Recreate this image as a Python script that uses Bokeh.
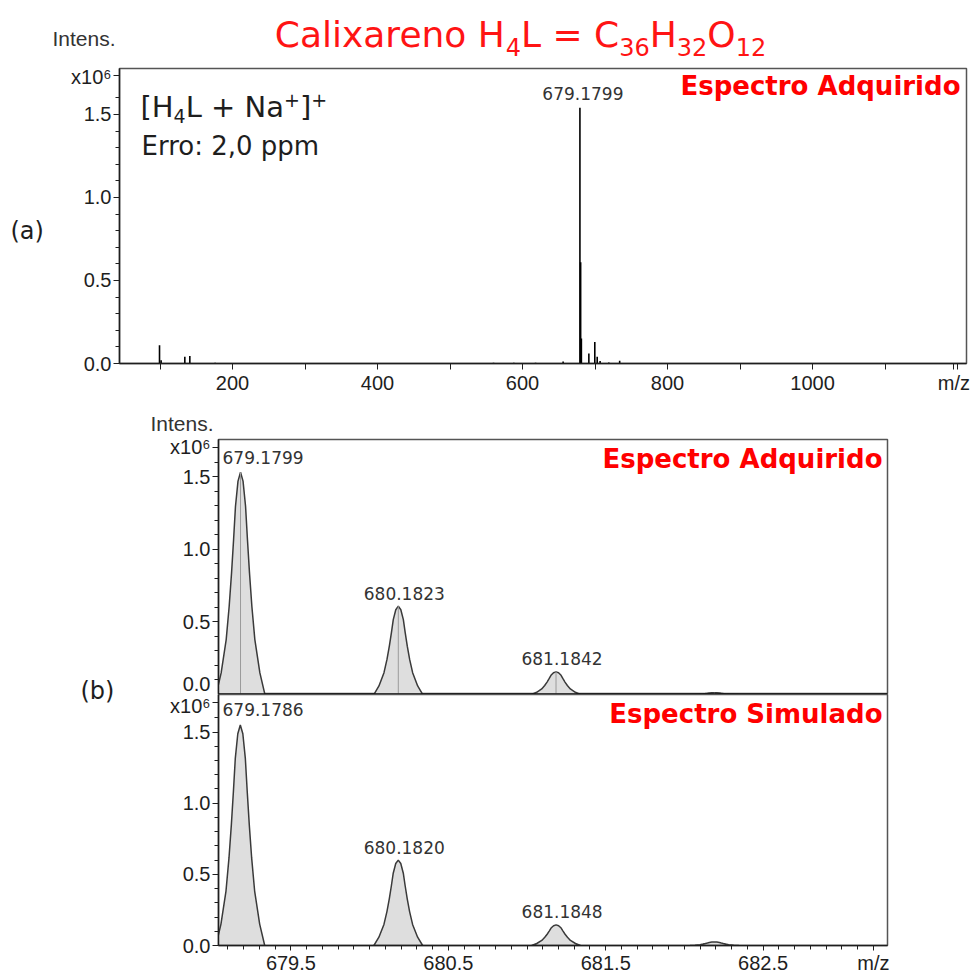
from bokeh.plotting import figure
from bokeh.layouts import column, row
from bokeh.models import (Label, FixedTicker, PrintfTickFormatter, Range1d,
                          ColumnDataSource, Span)
from bokeh.core.properties import value
from bokeh.embed import file_html
from bokeh.resources import INLINE

# ---------------- data ----------------
# (a) full-range spectrum (sticks), intensity in units of 10^6
full_mz = [99.3, 101.5, 134.2, 141.1, 176.0, 560.0, 588.0, 618.0, 656.0,
           679.18, 680.18, 681.18, 691.5, 699.7, 703.0, 707.0, 719.0, 734.0]
full_int = [0.11, 0.02, 0.04, 0.045, 0.004, 0.004, 0.004, 0.005, 0.012,
            1.54, 0.61, 0.15, 0.06, 0.13, 0.04, 0.015, 0.006, 0.016]
main_label_a = "679.1799"
xticks_a = [100, 200, 300, 400, 500, 600, 700, 800, 900, 1000, 1100, 1195]
xticklabels_a = ["", "200", "", "400", "", "600", "", "800", "", "1000", "", "m/z"]
yticks = [0.0, 0.5, 1.0, 1.5]
yticklabels = ["0.0", "0.5", "1.0", "1.5"]
yminor = [0.1, 0.2, 0.3, 0.4, 0.6, 0.7, 0.8, 0.9, 1.1, 1.2, 1.3, 1.4, 1.6]
scale_label = "x10\u2076"

# (b) isotope pattern, acquired and simulated
acq_mz = [679.1799, 680.1823, 681.1842, 682.19]
acq_int = [1.53, 0.608, 0.156, 0.012]
acq_labels = ["679.1799", "680.1823", "681.1842", ""]
sim_mz = [679.1786, 680.1820, 681.1848, 682.19]
sim_int = [1.55, 0.60, 0.145, 0.025]
sim_labels = ["679.1786", "680.1820", "681.1848", ""]
xticks_b = [679.5, 680.5, 681.5, 682.5, 683.2]
xticklabels_b = ["679.5", "680.5", "681.5", "682.5", "m/z"]
# peak profile shape: m/z offset and fraction of apex
profile_dx = [-0.155, -0.123, -0.091, -0.072, -0.057, -0.044, -0.032, -0.016, 0.0,
              0.016, 0.032, 0.044, 0.057, 0.072, 0.091, 0.123, 0.155]
profile_rel = [0.0, 0.097, 0.247, 0.397, 0.547, 0.697, 0.847, 0.96, 1.0,
               0.96, 0.847, 0.697, 0.547, 0.397, 0.247, 0.097, 0.0]

# text runs (text, size px, baseline shift px downwards)
title_runs = [("Calixareno H", 36, 0), ("4", 24, 8), ("L = C", 36, 0), ("36", 24, 8),
              ("H", 36, 0), ("32", 24, 8), ("O", 36, 0), ("12", 24, 8)]
ion_runs = [("[H", 29, 0), ("4", 19, 5), ("L + Na", 29, 0), ("+", 19, -11),
            ("]", 29, 0), ("+", 19, -11)]
error_text = "Erro: 2,0 ppm"

TICK_FONT = "Liberation Sans"
TXT_FONT = "DejaVu Sans"
DARK = "#1e1e1e"
RED = "#ff0000"
CAP_MID = 0.365  # half cap height of DejaVu Sans, in em

# DejaVu Sans advance widths (em) for laying out runs
ADV = {" ": 0.318, "+": 0.838, "=": 0.838, "[": 0.390, "]": 0.390,
       "C": 0.698, "H": 0.752, "L": 0.557, "N": 0.748, "O": 0.787,
       "a": 0.613, "e": 0.615, "i": 0.278, "l": 0.278, "n": 0.634,
       "o": 0.612, "r": 0.411, "x": 0.592}


def adv(t, size):
    return sum(ADV.get(c, 0.636) for c in t) * size


def no_align(p):
    try:
        p.frame_align = False
    except Exception:
        pass


def mapper(left, right, top, bottom, x0, x1, y0, y1):
    def f(px, py):
        return (x0 + (px - left) * (x1 - x0) / (right - left),
                y0 + (bottom - py) * (y1 - y0) / (bottom - top))
    return f


def txt(p, m, px, py, text, size, color=DARK, font=TXT_FONT, align="left",
        style="normal"):
    x, y = m(px, py)
    p.add_layout(Label(x=x, y=y, text=text, text_font=font, text_font_size=size,
                       text_color=color, text_align=align, text_baseline="middle",
                       text_font_style=style))


def style_axis(ax, size):
    ax.axis_line_color = DARK
    ax.axis_line_width = 1.5
    ax.major_tick_line_color = DARK
    ax.minor_tick_line_color = DARK
    ax.major_tick_out = 6
    ax.major_tick_in = 0
    ax.minor_tick_out = 4
    ax.minor_tick_in = 0
    ax.major_label_text_font = TICK_FONT
    ax.major_label_text_font_size = size
    ax.major_label_text_color = DARK
    ax.major_label_standoff = 2


def base_fig(**kw):
    p = figure(output_backend="svg", toolbar_location=None, **kw)
    p.grid.visible = False
    p.outline_line_color = "#555555"
    p.outline_line_width = 1.5
    p.background_fill_color = "white"
    p.border_fill_color = "white"
    no_align(p)
    return p


def text_fig(width, height, x0, x1, y_top, y_bottom):
    """A frame-only strip whose data coordinates are page pixels (for loose texts)."""
    p = figure(output_backend="svg", toolbar_location=None, width=width, height=height,
               x_range=Range1d(x0, x1), y_range=Range1d(y_bottom, y_top),
               x_axis_location=None, y_axis_location=None,
               min_border_left=0, min_border_right=0, min_border_top=0, min_border_bottom=0)
    p.grid.visible = False
    p.outline_line_color = None
    p.background_fill_color = "white"
    p.border_fill_color = "white"
    no_align(p)
    return p


def put_text(p, x, y, t, size, color=DARK, font=TXT_FONT, align="left"):
    p.text(x=[x], y=[y], text=[t], text_font=value(font), text_font_size=value(size),
           text_color=color, text_align=align, text_baseline="middle")


def y_ticker(ax, top_tick):
    ax.ticker = FixedTicker(ticks=yticks + [top_tick], minor_ticks=yminor)
    ov = {t: l for t, l in zip(yticks, yticklabels)}
    ov[top_tick] = scale_label
    ax.major_label_overrides = ov
    ax.formatter = PrintfTickFormatter(format="%.1f")


# ---------------- header (title row) ----------------
hdr = text_fig(971, 65, 0, 971, 0, 65)
total = sum(adv(t, s) for t, s, d in title_runs)
cx = 520 - total / 2
for t, s, d in title_runs:
    put_text(hdr, cx, 47 + d - CAP_MID * s, t, "%dpx" % s, color="#ff1414")
    cx += adv(t, s)
put_text(hdr, 52, 38, "Intens.", "21px", color="#333333", font=TICK_FONT)

# ---------------- panel (a) ----------------
sa = text_fig(63, 335, 0, 63, 65, 400)
put_text(sa, 10, 230, "(a)", "24px")

XA0, XA1, YA1 = 44.1, 1212.4, 1.777
pa = base_fig(width=908, height=335, x_range=Range1d(XA0, XA1), y_range=Range1d(0, YA1),
              min_border_left=56, min_border_right=5, min_border_top=3, min_border_bottom=37)
ma = mapper(119, 966, 68, 363, XA0, XA1, 0, YA1)

pa.xaxis.ticker = FixedTicker(ticks=xticks_a, minor_ticks=[1200])
pa.xaxis.major_label_overrides = {t: l for t, l in zip(xticks_a, xticklabels_a)}
y_ticker(pa.yaxis[0], 1.735)
for ax in pa.xaxis + pa.yaxis:
    style_axis(ax, "20px")
pa.xaxis[0].minor_tick_out = 6

src_a = ColumnDataSource(dict(mz=full_mz, h=full_int))
pa.segment(x0="mz", y0=0, x1="mz", y1="h", source=src_a, line_color="black", line_width=1.6)

pa.add_layout(Label(x=full_mz[9], y=full_int[9], y_offset=14, text=main_label_a,
                    text_font=TXT_FONT, text_font_size="17px", text_color="#333333",
                    text_align="center", text_baseline="middle", x_offset=3))
cx = 140
for t, s, d in ion_runs:
    txt(pa, ma, cx, 117 + d - CAP_MID * s, t, "%dpx" % s)
    cx += adv(t, s)
txt(pa, ma, 141, 155 - CAP_MID * 26, error_text, "26px")
txt(pa, ma, 960, 85, "Espectro Adquirido", "26px", color=RED, align="right", style="bold")

# ---------------- panel (b) ----------------
hb = text_fig(971, 34, 0, 971, 400, 434)
put_text(hb, 150, 423, "Intens.", "21px", color="#333333", font=TICK_FONT)

sb = text_fig(150, 542, 0, 150, 434, 976)
put_text(sb, 80, 690, "(b)", "24px")

XB0, XB1 = 679.04, 683.29
YB1, YC1 = 1.755, 1.764
pb = base_fig(width=821, height=260, x_range=Range1d(XB0, XB1), y_range=Range1d(0, YB1),
              min_border_left=68, min_border_right=84, min_border_top=5, min_border_bottom=0,
              x_axis_location=None)
mb = mapper(218, 887, 439, 694, XB0, XB1, 0, YB1)
y_ticker(pb.yaxis[0], 1.70)
style_axis(pb.yaxis[0], "20px")

pc = base_fig(width=821, height=282, x_range=pb.x_range, y_range=Range1d(0, YC1),
              min_border_left=68, min_border_right=84, min_border_top=0, min_border_bottom=28)
mc = mapper(218, 887, 694, 948, XB0, XB1, 0, YC1)
pc.xaxis.ticker = FixedTicker(
    ticks=xticks_b,
    minor_ticks=[round(679.1 + 0.1 * i, 1) for i in range(41)])
pc.xaxis.major_label_overrides = {t: l for t, l in zip(xticks_b, xticklabels_b)}
pc.xaxis.formatter = PrintfTickFormatter(format="%.1f")
y_ticker(pc.yaxis[0], 1.71)
for ax in pc.xaxis + pc.yaxis:
    style_axis(ax, "20px")
pc.xaxis[0].major_tick_out = 5
pc.xaxis[0].major_label_standoff = 1


def draw_peaks(p, mzs, ints, labels, center_lines):
    xs = [[m + d for d in profile_dx] for m in mzs]
    ys = [[h * r for r in profile_rel] for h in ints]
    p.patches(xs=xs, ys=ys, fill_color="#dedede", line_color="#3a3a3a", line_width=1.5)
    if center_lines:
        p.segment(x0=mzs, y0=[0] * len(mzs), x1=mzs, y1=ints, line_color="#9a9a9a", line_width=1)
    for i, (m, h, lab) in enumerate(zip(mzs, ints, labels)):
        if not lab:
            continue
        if i == 0:
            p.add_layout(Label(x=XB0, y=h, x_offset=4, y_offset=15, text=lab, text_font=TXT_FONT,
                               text_font_size="17px", text_color="#333333",
                               text_align="left", text_baseline="middle"))
        else:
            p.add_layout(Label(x=m, y=h, x_offset=6, y_offset=13, text=lab, text_font=TXT_FONT,
                               text_font_size="17px", text_color="#333333",
                               text_align="center", text_baseline="middle"))


draw_peaks(pb, acq_mz, acq_int, acq_labels, True)
draw_peaks(pc, sim_mz, sim_int, sim_labels, False)

pb.add_layout(Span(location=0, dimension="width", line_color="#111111", line_width=2.5))

txt(pb, mb, 882, 458, "Espectro Adquirido", "26px", color=RED, align="right", style="bold")
txt(pc, mc, 882, 714, "Espectro Simulado", "26px", color=RED, align="right", style="bold")

layout = column(hdr, row(sa, pa, spacing=0), hb,
                row(sb, column(pb, pc, spacing=0), spacing=0), spacing=0)
open("out.html", "w").write(file_html(layout, INLINE))
